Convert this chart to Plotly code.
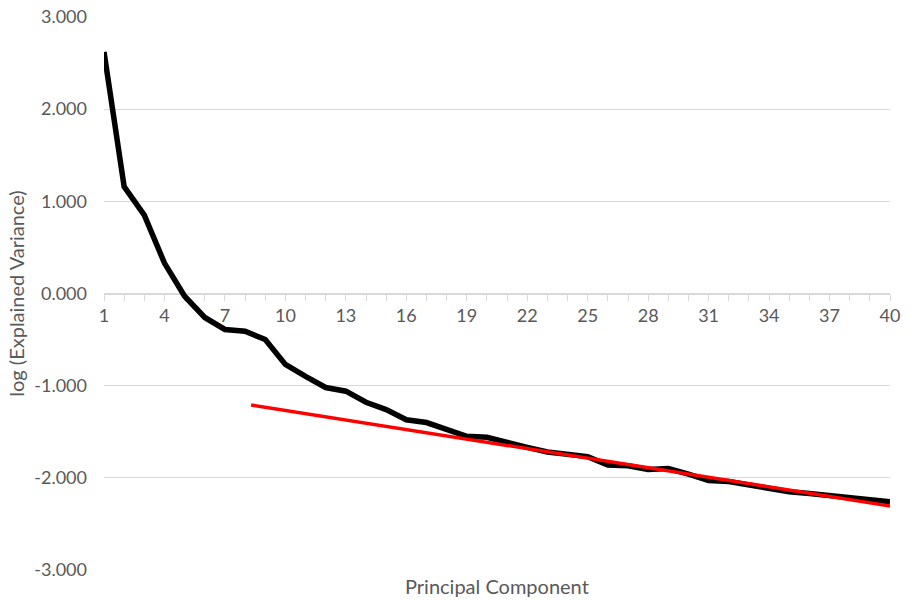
import plotly.graph_objects as go

components = list(range(1, 41))
log_variance = [2.62, 1.16, 0.85, 0.33, -0.03, -0.26, -0.39, -0.41, -0.50, -0.77,
                -0.90, -1.02, -1.06, -1.18, -1.26, -1.37, -1.40, -1.47, -1.55, -1.56,
                -1.62, -1.67, -1.72, -1.74, -1.77, -1.86, -1.87, -1.91, -1.90, -1.96,
                -2.03, -2.04, -2.08, -2.11, -2.15, -2.17, -2.19, -2.22, -2.24, -2.26]
trend_x = [8.3, 40.15]
trend_y = [-1.21, -2.31]

x_tick_vals = list(range(1, 41, 3))
x_tick_text = [str(v) for v in x_tick_vals]
y_tick_vals = [3, 2, 1, 0, -1, -2, -3]
y_tick_text = ["3.000", "2.000", "1.000", "0.000", "-1.000", "-2.000", "-3.000"]

fig = go.Figure()
fig.add_trace(go.Scatter(x=components, y=log_variance, mode="lines",
                         line=dict(color="black", width=5.5), showlegend=False))
fig.add_trace(go.Scatter(x=trend_x, y=trend_y, mode="lines",
                         line=dict(color="#ff0000", width=3.5), showlegend=False))

font_family = "Lato, 'Open Sans', sans-serif"
fig.update_layout(
    width=912, height=600,
    margin=dict(l=104, r=20, t=17, b=30),
    paper_bgcolor="white", plot_bgcolor="white",
    font=dict(family=font_family, size=18, color="#595959"),
    xaxis=dict(
        range=[1, 40], anchor="free", position=0.5, layer="below traces",
        tickvals=x_tick_vals, ticktext=x_tick_text,
        showgrid=False, zeroline=False,
        showline=True, linecolor="#d9d9d9", linewidth=1,
        ticks="outside", ticklen=6, tickcolor="#d9d9d9",
        minor=dict(ticks="outside", dtick=1, tick0=1, ticklen=6, tickcolor="#d9d9d9"),
        tickfont=dict(size=18, color="#595959"),
    ),
    yaxis=dict(
        range=[-3, 3], domain=[0, 1], layer="below traces",
        tickvals=y_tick_vals, ticktext=y_tick_text,
        showgrid=True, gridcolor="#d9d9d9", gridwidth=1,
        zeroline=False, showline=False, ticks="",
        ticklabelstandoff=16, automargin=False,
        tickfont=dict(size=18, color="#595959"),
        title=dict(text="log (Explained Variance)", font=dict(size=20, color="#595959"), standoff=4),
    ),
    annotations=[dict(text="Principal Component", x=0.5, y=-0.004, xref="paper", yref="paper",
                      xanchor="center", yanchor="top", showarrow=False,
                      font=dict(size=20, color="#595959"))],
)

fig.write_html("out.html", config={"displayModeBar": False},
               post_script="document.body.style.margin='0';document.body.style.overflow='hidden';")
